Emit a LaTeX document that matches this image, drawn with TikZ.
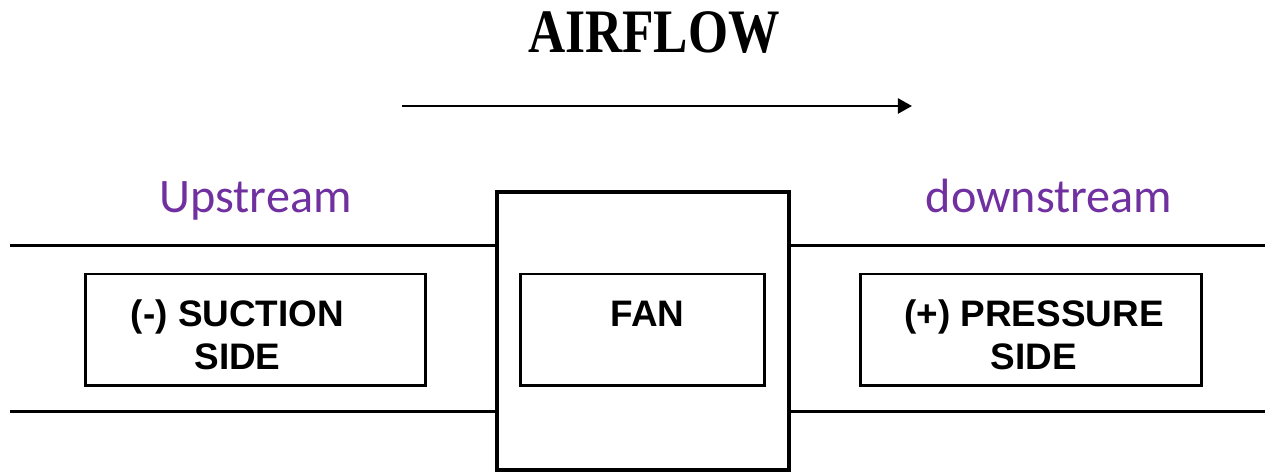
\documentclass[tikz,border=0pt]{standalone}
\usepackage{fontspec}
\usepackage{xcolor}
\usepackage{graphicx}
\usetikzlibrary{arrows.meta}
\newfontfamily\arialf{Liberation Sans}
\newfontfamily\calif{Carlito}
\newfontfamily\timesf{Liberation Serif}
\definecolor{streampurple}{RGB}{112,48,160}
\tikzset{
  duct/.style={line width=1.7pt},
  housing/.style={draw,line width=1.8pt,minimum width=5.84cm,minimum height=5.56cm,inner sep=0pt},
  sidebox/.style={draw,line width=1.7pt,minimum height=2.24cm,inner sep=0pt,align=center,
    font=\arialf\bfseries\fontsize{21}{25}\selectfont,text height=45.5pt,text depth=0pt},
  flow/.style={line width=1.5pt,-{Triangle[length=8pt,width=8.5pt]}},
  stream/.style={text=streampurple,font=\calif\fontsize{27.4}{31}\selectfont,inner sep=0pt,anchor=base}
}
\begin{document}
\begin{tikzpicture}[x=0.02cm,y=0.02cm]
\useasboundingbox (0,0) rectangle (1265,475);
\node[font=\timesf\bfseries\fontsize{29.3}{33}\selectfont,anchor=base,inner sep=0pt] (title) at (654,422) {\scalebox{1}[1.2]{AIRFLOW}};
\coordinate (flowL) at (402,369); \coordinate (flowR) at (912,369);
\draw[flow] (flowL) -- (flowR);
\node[stream] (up) at (255.5,262) {Upstream};
\node[stream] (down) at (1049,262) {downstream};
% duct and fan housing
\node[housing] (fanhouse) at (643,144) {};
\coordinate (ductTL) at (10,229); \coordinate (ductBL) at (10,63);
\coordinate (ductTR) at (1265,229); \coordinate (ductBR) at (1265,63);
\draw[duct] (ductTL) -- (ductTL -| fanhouse.west);
\draw[duct] (ductBL) -- (ductBL -| fanhouse.west);
\draw[duct] (fanhouse.east |- ductTR) -- (ductTR);
\draw[duct] (fanhouse.east |- ductBR) -- (ductBR);
% inner boxes
\node[sidebox,minimum width=6.82cm] (suction) at (255.5,145) {(-) SUCTION\hspace*{20.5pt}\\SIDE\hspace*{20.5pt}};
\node[sidebox,minimum width=4.9cm] (fan) at (642.5,145) {\hspace*{5.7pt}FAN\\\mbox{}};
\node[sidebox,minimum width=6.84cm] (pressure) at (1031,145) {\hspace*{3.4pt}(+) PRESSURE\\\hspace*{3.4pt}SIDE};
\end{tikzpicture}
\end{document}
